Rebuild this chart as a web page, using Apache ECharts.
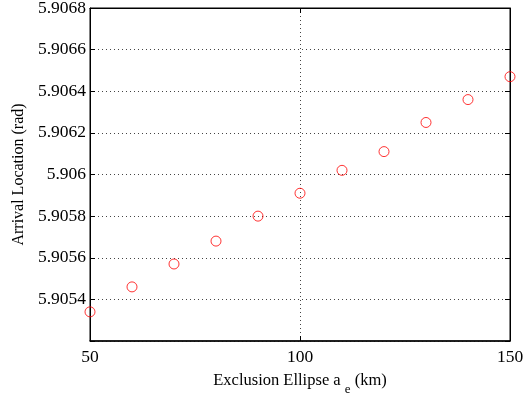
<!DOCTYPE html>
<html>
<head>
<meta charset="utf-8">
<script src="https://cdn.jsdelivr.net/npm/echarts@6/dist/echarts.min.js"></script>
<style>
  html, body { margin: 0; padding: 0; background: #fff; }
  #chart { width: 527px; height: 394px; }
</style>
</head>
<body>
<div id="chart"></div>
<script>
const ellipseKm = [50, 60, 70, 80, 90, 100, 110, 120, 130, 140, 150]
const arrivalRad = [5.90534, 5.90546, 5.90557, 5.90568, 5.9058, 5.90591, 5.90602, 5.90611, 5.90625, 5.90636, 5.90647]

const yMin = 5.9052
const yMax = 5.9068
const yStep = 0.0002

const font = 'Liberation Serif'
const chart = echarts.init(document.getElementById('chart'))

const fmtY = (v) => {
  if (Math.abs(v - yMin) < 1e-7) return ''
  return String(parseFloat(v.toFixed(4)))
}

const gridLine = {
  show: true,
  lineStyle: { color: '#444', width: 1, type: [1, 3] },
}

chart.setOption({
  animation: false,
  grid: {
    left: 90,
    right: 17,
    top: 8,
    bottom: 53,
    outerBoundsMode: 'none',
    show: true,
    borderColor: '#000',
    borderWidth: 1,
  },
  xAxis: [
    {
      type: 'value',
      min: 50,
      max: 150,
      interval: 50,
      name: '{t|Exclusion Ellipse a }{s|e}{t| (km)}',
      nameLocation: 'middle',
      nameGap: 24,
      nameTextStyle: {
        rich: {
          t: { fontFamily: font, fontSize: 16.5, color: '#000' },
          s: { fontFamily: font, fontSize: 13, color: '#000', padding: [18, 0, 0, 0] },
        },
      },
      axisLine: { show: true, lineStyle: { color: '#000', width: 1.5 } },
      axisTick: { show: true, inside: true, length: 5, lineStyle: { color: '#000' } },
      axisLabel: { fontFamily: font, fontSize: 17.5, color: '#000', margin: 7 },
      splitLine: gridLine,
    },
    {
      type: 'value',
      position: 'top',
      min: 50,
      max: 150,
      interval: 50,
      axisLine: { show: true, lineStyle: { color: '#000' } },
      axisTick: { show: true, inside: true, length: 5, lineStyle: { color: '#000' } },
      axisLabel: { show: false },
      splitLine: { show: false },
    },
  ],
  yAxis: [
    {
      type: 'value',
      min: yMin,
      max: yMax,
      interval: yStep,
      name: 'Arrival Location (rad)',
      nameLocation: 'middle',
      nameGap: 63,
      nameTextStyle: { fontFamily: font, fontSize: 16, color: '#000' },
      axisLine: { show: true, lineStyle: { color: '#000', width: 1 } },
      axisTick: { show: true, inside: true, length: 5, lineStyle: { color: '#000' } },
      axisLabel: { fontFamily: font, fontSize: 17.5, color: '#000', margin: 4, formatter: fmtY },
      splitLine: gridLine,
    },
    {
      type: 'value',
      position: 'right',
      min: yMin,
      max: yMax,
      interval: yStep,
      axisLine: { show: true, lineStyle: { color: '#000' } },
      axisTick: { show: true, inside: true, length: 5, lineStyle: { color: '#000' } },
      axisLabel: { show: false },
      splitLine: { show: false },
    },
  ],
  series: [
    {
      type: 'scatter',
      data: ellipseKm.map((x, i) => [x, arrivalRad[i]]),
      symbol: 'circle',
      symbolSize: 10,
      clip: false,
      itemStyle: { color: 'transparent', borderColor: '#ff0000', borderWidth: 1 },
    },
  ],
})
</script>
</body>
</html>
